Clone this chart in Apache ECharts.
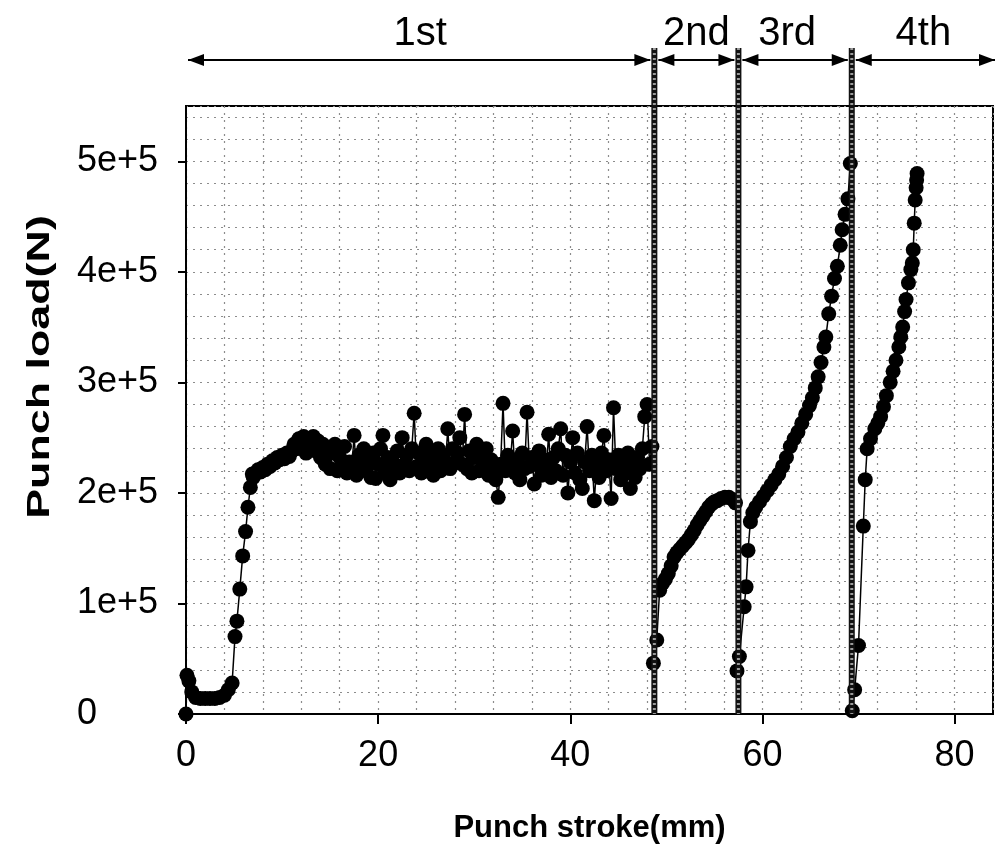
<!DOCTYPE html>
<html>
<head>
<meta charset="utf-8">
<script src="https://cdn.jsdelivr.net/npm/echarts@6/dist/echarts.min.js"></script>
<style>
html,body{margin:0;padding:0;background:#fff;}
#chart{width:1003px;height:849px;}
</style>
</head>
<body>
<div id="chart"></div>
<script>
// ---------- data (stroke in mm, load in N) ----------
// 1st stage: initial ramp
const stroke1a = [0,0.1,0.3,0.6,1.0,1.5,2.0,2.5,3.0,3.5,4.0,4.4,4.8,5.1,5.3,5.6,5.9,6.2,6.45,6.7,6.9];
const load1a = [0,35e3,30e3,20e3,15e3,14e3,14e3,14e3,14e3,15e3,17e3,22e3,28e3,70e3,84e3,113e3,143e3,165e3,187e3,205e3,217e3];
// 1st stage: plateau
const stroke1b = [7.00,7.25,7.50,7.75,8.00,8.25,8.50,8.75,9.00,9.25,9.50,9.75,10.00,10.25,10.50,10.75,11.00,11.25,11.50,11.75,
 12.00,12.25,12.50,12.75,13.00,13.25,13.50,13.75,14.00,14.25,14.50,14.75,15.00,15.25,15.50,15.75,16.00,16.25,16.50,16.75,
 17.00,17.25,17.50,17.75,18.00,18.25,18.50,18.75,19.00,19.25,19.50,19.75,20.00,20.25,20.50,20.75,21.00,21.25,21.50,21.75,
 22.00,22.25,22.50,22.75,23.00,23.25,23.50,23.75,24.00,24.25,24.50,24.75,25.00,25.25,25.50,25.75,26.00,26.25,26.50,26.75,
 27.00,27.25,27.50,27.75,28.00,28.25,28.50,28.75,29.00,29.25,29.50,29.75,30.00,30.25,30.50,30.75,31.00,31.25,31.50,31.75,
 32.00,32.25,32.50,32.75,33.00,33.25,33.50,33.75,34.00,34.25,34.50,34.75,35.00,35.25,35.50,35.75,36.00,36.25,36.50,36.75,
 37.00,37.25,37.50,37.75,38.00,38.25,38.50,38.75,39.00,39.25,39.50,39.75,40.00,40.25,40.50,40.75,41.00,41.25,41.50,41.75,
 42.00,42.25,42.50,42.75,43.00,43.25,43.50,43.75,44.00,44.25,44.50,44.75,45.00,45.25,45.50,45.75,46.00,46.25,46.50,46.75,
 47.00,47.25,47.50,47.75,48.00,48.25,48.50];
const load1b = [214e3,218e3,221e3,219e3,223e3,221e3,226e3,224e3,229e3,227e3,232e3,230e3,234e3,231e3,236e3,233e3,238e3,244e3,240e3,249e3,
 244e3,251e3,236e3,248e3,242e3,251e3,238e3,247e3,232e3,244e3,226e3,240e3,222e3,236e3,244e3,220e3,232e3,226e3,242e3,218e3,
 228e3,222e3,252e3,216e3,234e3,226e3,240e3,220e3,230e3,214e3,236e3,213e3,226e3,240e3,252e3,220e3,232e3,212e3,228e3,222e3,
 238e3,218e3,250e3,226e3,234e3,220e3,240e3,272e3,224e3,236e3,218e3,232e3,244e3,222e3,236e3,216e3,230e3,240e3,220e3,234e3,
 226e3,258e3,222e3,240e3,228e3,236e3,250e3,226e3,271e3,222e3,238e3,218e3,232e3,244e3,220e3,236e3,226e3,240e3,216e3,230e3,
 222e3,212e3,196e3,226e3,281e3,220e3,234e3,226e3,256e3,218e3,230e3,212e3,236e3,222e3,273e3,224e3,232e3,208e3,226e3,238e3,
 216e3,230e3,222e3,253e3,214e3,232e3,220e3,240e3,258e3,216e3,234e3,200e3,228e3,250e3,218e3,236e3,212e3,204e3,228e3,260e3,
 220e3,234e3,193e3,226e3,214e3,236e3,252e3,220e3,230e3,195e3,277e3,222e3,234e3,212e3,228e3,218e3,236e3,204e3,224e3,214e3,
 232e3,222e3,240e3,269e3,280e3,226e3,242e3];

const stroke2 = [48.65,49.0,49.3,49.6,49.9,50.2,50.5,50.8,51.1,51.4,51.7,52.0,52.3,52.6,52.9,53.2,53.5,53.8,54.1,54.4,54.7,55.0,55.3,55.7,56.1,56.5,56.9,57.2];
const load2 = [46e3,67e3,112e3,118e3,122e3,127e3,134e3,142e3,146e3,149e3,152e3,155e3,158e3,162e3,166e3,171e3,175e3,179e3,183e3,187e3,190e3,192e3,193e3,195e3,196e3,196e3,194e3,191e3];

const stroke3 = [57.35,57.6,58.1,58.3,58.5,58.75,59.0,59.3,59.7,60.1,60.5,60.9,61.3,61.7,62.1,62.5,62.9,63.3,63.7,64.1,64.5,64.9,65.2,65.5,65.8,66.1,66.4,66.6,66.9,67.2,67.5,67.8,68.1,68.3,68.6,68.9,69.15];
const load3 = [39e3,52e3,97e3,115e3,148e3,174e3,182e3,187e3,192e3,197e3,202e3,207e3,212e3,217e3,224e3,232e3,242e3,249e3,255e3,263e3,271e3,279e3,286e3,295e3,305e3,318e3,332e3,341e3,362e3,378e3,394e3,405e3,424e3,438e3,452e3,466e3,498e3];

const stroke4 = [69.35,69.6,70.0,70.5,70.7,70.9,71.25,71.7,72.0,72.3,72.6,72.9,73.3,73.6,73.9,74.2,74.4,74.6,74.8,74.95,75.2,75.45,75.6,75.7,75.8,75.9,76.0,76.05,76.1];
const load4 = [3e3,22e3,62e3,170e3,212e3,240e3,249e3,258e3,263e3,269e3,278e3,288e3,300e3,310e3,320e3,332e3,341e3,350e3,364e3,375e3,390e3,402e3,408e3,420e3,444e3,465e3,476e3,483e3,489e3];

const stageBounds = [48.75, 57.5, 69.3];
const stageNames = ['1st', '2nd', '3rd', '4th'];
const xTicks = [0, 20, 40, 60, 80];
const yTicks = [0, 100000, 200000, 300000, 400000, 500000];
const xMin = 0, xMax = 84, yMin = 0, yMax = 550000;
const xGridStep = 4, yGridStep = 20000;

// ---------- build ----------
const strokes = [].concat(stroke1a, stroke1b, stroke2, stroke3, stroke4);
const loads = [].concat(load1a, load1b, load2, load3, load4);
const seriesData = strokes.map((s, i) => [s, loads[i]]);

const chart = echarts.init(document.getElementById('chart'), null, {renderer: 'canvas'});
const gridLine = {show: true, lineStyle: {color: '#8c8c8c', width: 1.2, type: [2, 5]}};
const FONT = '"Liberation Sans", Arial, sans-serif';
const hiddenParts = {axisLine: {show: false}, axisTick: {show: false}, axisLabel: {show: false}};

chart.setOption({
  backgroundColor: '#fff',
  animation: false,
  grid: {left: 186, right: 10, top: 106, bottom: 133, containLabel: false,
         show: true, borderColor: '#000', borderWidth: 2, backgroundColor: 'transparent'},
  xAxis: [{
    type: 'value', min: xMin, max: xMax, interval: 20,
    name: 'Punch stroke(mm)', nameLocation: 'middle', nameGap: 99,
    nameTextStyle: {fontFamily: FONT, fontSize: 31, fontWeight: 'bold', color: '#000'},
    axisLine: {show: true, lineStyle: {color: '#000', width: 2}, onZero: false},
    axisTick: {show: true, length: 10, lineStyle: {color: '#000', width: 2}, customValues: xTicks},
    axisLabel: {fontFamily: FONT, fontSize: 36, color: '#000', margin: 24, customValues: xTicks},
    splitLine: {show: false}, z: 5
  }, Object.assign({
    type: 'value', min: xMin, max: xMax, interval: xGridStep, position: 'bottom',
    splitLine: gridLine, z: 1
  }, hiddenParts)],
  yAxis: [{
    type: 'value', min: yMin, max: yMax, interval: 100000,
    axisLine: {show: true, lineStyle: {color: '#000', width: 2}, onZero: false},
    axisTick: {show: true, length: 8, lineStyle: {color: '#000', width: 2}, customValues: yTicks},
    axisLabel: {fontFamily: FONT, fontSize: 36, color: '#000', margin: 109, align: 'left',
      customValues: yTicks,
      formatter: v => v === 0 ? '0' : (v / 100000) + 'e+5'},
    splitLine: {show: false}, z: 5
  }, Object.assign({
    type: 'value', min: yMin, max: yMax, interval: yGridStep, position: 'left',
    splitLine: gridLine, z: 1
  }, hiddenParts)],
  series: [{
    type: 'line', data: seriesData, clip: false, xAxisIndex: 0, yAxisIndex: 0,
    symbol: 'circle', symbolSize: 15, showSymbol: true,
    itemStyle: {color: '#000'},
    lineStyle: {color: '#000', width: 1.5}, z: 10
  }]
});

// ---------- annotations derived from axis scales ----------
const px = v => chart.convertToPixel({xAxisIndex: 0}, v);
const py = v => chart.convertToPixel({yAxisIndex: 0}, v);
const plotTop = py(yMax), plotBottom = py(yMin);
const arrowY = plotTop - 46, labelY = plotTop - 72, lineTop = plotTop - 58;
const bx = [px(xMin)].concat(stageBounds.map(px), [px(xMax) + 2]);
const els = [];
function head(x, dir) {
  els.push({type: 'polygon', shape: {points: [[x, arrowY], [x - dir * 16, arrowY - 6], [x - dir * 16, arrowY + 6]]},
            style: {fill: '#000'}, z: 20});
}
for (let i = 0; i < stageNames.length; i++) {
  const a = bx[i] + (i === 0 ? 2 : 4), b = bx[i + 1] - (i === stageNames.length - 1 ? 0 : 4);
  els.push({type: 'line', shape: {x1: a, y1: arrowY, x2: b, y2: arrowY}, style: {stroke: '#000', lineWidth: 2}, z: 20});
  head(a, -1); head(b, 1);
  els.push({type: 'text', x: (bx[i] + bx[i + 1]) / 2 - (i === 2 ? 8 : 0), y: labelY,
            style: {text: stageNames[i], font: '40px ' + FONT, fill: '#000', align: 'center', verticalAlign: 'middle'}, z: 20});
}
stageBounds.forEach(b => {
  const x = px(b);
  els.push({type: 'line', shape: {x1: x, y1: lineTop, x2: x, y2: plotBottom}, style: {stroke: '#111', lineWidth: 6}, z: 30});
  els.push({type: 'line', shape: {x1: x, y1: lineTop, x2: x, y2: plotBottom}, style: {stroke: '#9a9a9a', lineWidth: 3, lineDash: [2, 3]}, z: 31});
});
els.push({type: 'text', x: 40, y: 367, rotation: Math.PI / 2, scaleX: 1.4,
          style: {text: 'Punch load(N)', font: 'bold 32px ' + FONT, fill: '#000', align: 'center', verticalAlign: 'middle'}, z: 20});
chart.setOption({graphic: {elements: els}});
</script>
</body>
</html>
